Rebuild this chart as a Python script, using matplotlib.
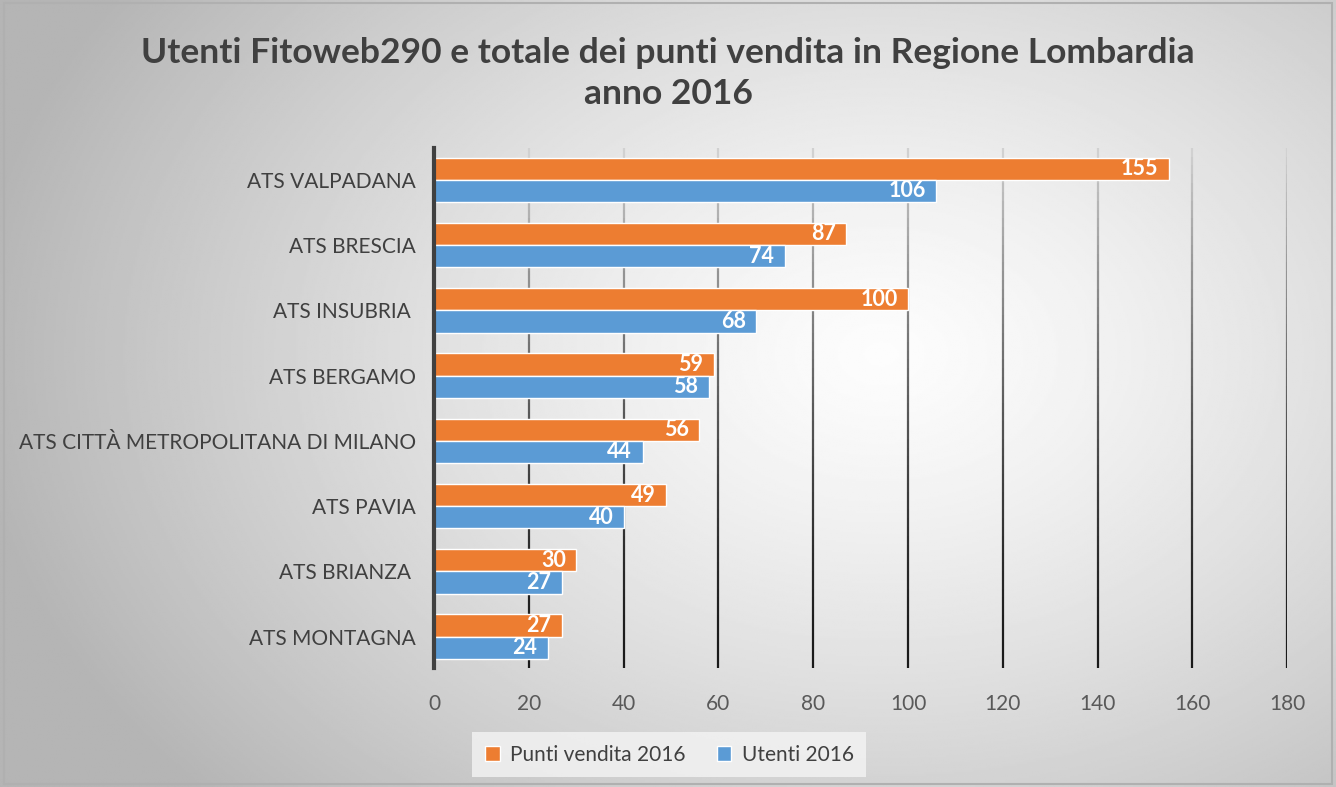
import numpy as np
import matplotlib
matplotlib.use("Agg")
import matplotlib.pyplot as plt
from matplotlib.collections import LineCollection
from matplotlib.patches import Rectangle

categories = ["ATS VALPADANA", "ATS BRESCIA", "ATS INSUBRIA ", "ATS BERGAMO",
              "ATS CITTÀ METROPOLITANA DI MILANO", "ATS PAVIA", "ATS BRIANZA ",
              "ATS MONTAGNA"]
punti_vendita = [155, 87, 100, 59, 56, 49, 30, 27]
utenti = [106, 74, 68, 58, 44, 40, 27, 24]
xticks = [0, 20, 40, 60, 80, 100, 120, 140, 160, 180]

ORANGE = "#ED7D31"
BLUE = "#5B9BD5"
TEXT = "#404040"

plt.rcParams["font.family"] = ["Lato", "DejaVu Sans"]

fig = plt.figure(figsize=(13.36, 7.87), dpi=100)

# radial background gradient
bg = fig.add_axes([0, 0, 1, 1], zorder=-10)
yy, xx = np.mgrid[0:1:400j, 0:1:680j]
r = np.sqrt(((xx - 0.66) * 1.1) ** 2 + ((yy - 0.55) * 0.9) ** 2)
shade = 0.99 - 0.28 * np.clip(r / 0.75, 0, 1) ** 1.3
bg.imshow(shade, cmap="gray", vmin=0, vmax=1, extent=[0, 1, 0, 1],
          aspect="auto", origin="lower")
bg.add_patch(Rectangle((0.003, 0.004), 0.994, 0.992, fill=False,
                       edgecolor="#b0b0b0", lw=1.5, transform=bg.transAxes))
bg.set_axis_off()

ax = fig.add_axes([0.3249, 0.1512, 0.6385, 0.661])
ax.patch.set_alpha(0)

y = np.arange(len(categories))
h = 0.34
bars_o = ax.barh(y - h / 2, punti_vendita, height=h, color=ORANGE,
                 edgecolor="white", lw=1, zorder=3, label="Punti vendita 2016")
bars_b = ax.barh(y + h / 2, utenti, height=h, color=BLUE,
                 edgecolor="white", lw=1, zorder=3, label="Utenti 2016")

for bars, vals in [(bars_o, punti_vendita), (bars_b, utenti)]:
    for b, v in zip(bars, vals):
        ax.text(v - 2.2, b.get_y() + b.get_height() / 2, str(v), ha="right",
                va="center", color="white", fontsize=15.5, fontweight="bold",
                zorder=4)

ax.set_xlim(0, 180)
ax.set_ylim(len(categories) - 0.52, -0.49)

# gridlines fading from grey at the top to black at the bottom
ny = 60
ys = np.linspace(-0.49, len(categories) - 0.52, ny)
segs, cols = [], []
for xt in xticks[1:]:
    for i in range(ny - 1):
        segs.append([(xt, ys[i]), (xt, ys[i + 1])])
        t = i / (ny - 2)
        g = 0.72 * (1 - t) ** 1.5 + 0.1
        cols.append((g, g, g))
ax.add_collection(LineCollection(segs, colors=cols, linewidths=1.6, zorder=1))

for s in ["top", "right", "bottom"]:
    ax.spines[s].set_visible(False)
ax.spines["left"].set_color(TEXT)
ax.spines["left"].set_linewidth(3)
ax.spines["left"].set_zorder(5)

ax.set_xticks(xticks)
ax.set_yticks(y)
ax.set_yticklabels(categories)
ax.tick_params(axis="x", length=0, pad=19, labelsize=15, labelcolor="#595959")
ax.tick_params(axis="y", length=0, pad=13, labelsize=15, labelcolor=TEXT)

fig.text(0.5, 0.907, "Utenti Fitoweb290 e totale dei punti vendita in Regione Lombardia\nanno 2016",
         ha="center", va="center", fontsize=25.5, fontweight="bold", color=TEXT,
         linespacing=1.35)

leg = fig.legend(handles=[bars_o, bars_b], loc="center", ncol=2,
                 bbox_to_anchor=(0.501, 0.041), fontsize=15, frameon=True,
                 fancybox=False, handlelength=0.7, handleheight=0.7,
                 columnspacing=1.5, handletextpad=0.5, borderpad=0.6)
leg.get_frame().set_facecolor("#f4f4f4")
leg.get_frame().set_edgecolor("none")
for t in leg.get_texts():
    t.set_color(TEXT)

fig.savefig("out.png", dpi=100)
